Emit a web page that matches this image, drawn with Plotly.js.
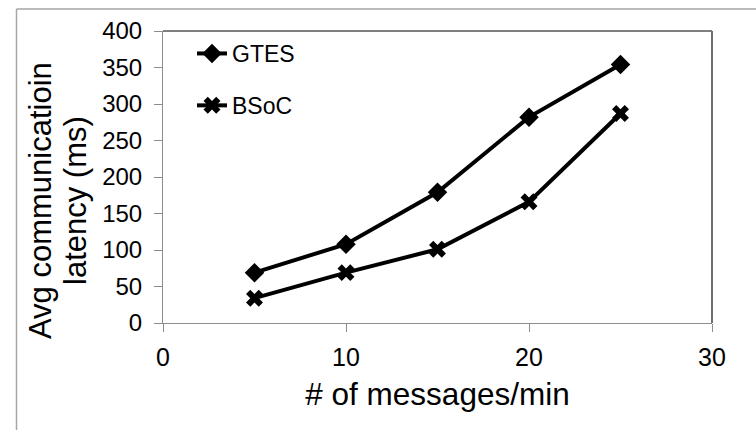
<!DOCTYPE html>
<html>
<head>
<meta charset="utf-8">
<script src="https://cdn.plot.ly/plotly-3.0.1.min.js"></script>
<style>
html,body{margin:0;padding:0;background:#fff;}
#chart{width:756px;height:430px;}
</style>
</head>
<body>
<div id="chart"></div>
<script>
const messagesPerMin = [5, 10, 15, 20, 25];
const gtesLatency = [69, 108, 179, 282, 354];
const bsocLatency = [34, 69, 101, 166, 287];
const xTicks = [0, 10, 20, 30];
const yTicks = [0, 50, 100, 150, 200, 250, 300, 350, 400];

const W = 756, H = 430;
const M = {l: 163, r: 44, t: 31, b: 107};
const pw = W - M.l - M.r, ph = H - M.t - M.b;
const px = v => (v - M.l) / pw;
const py = v => (H - M.b - v) / ph;

const font = 'Arial, "Liberation Sans", sans-serif';

const traces = [
  {x: messagesPerMin, y: gtesLatency, name: 'GTES', type: 'scatter', mode: 'lines+markers',
   legendgroup: 'a',
   line: {color: '#000', width: 4}, marker: {symbol: 'diamond', size: 15, color: '#000'}},
  {x: messagesPerMin, y: bsocLatency, name: 'BSoC', type: 'scatter', mode: 'lines+markers',
   legendgroup: 'b',
   line: {color: '#000', width: 4}, marker: {symbol: 'x', size: 15, color: '#000', line: {width: 0}}}
];

const layout = {
  width: W, height: H,
  margin: M,
  paper_bgcolor: '#fff', plot_bgcolor: '#fff',
  font: {family: font, color: '#000'},
  showlegend: true,
  legend: {x: px(192), y: py(32), xanchor: 'left', yanchor: 'top',
           bgcolor: 'rgba(0,0,0,0)', borderwidth: 0,
           font: {size: 23, family: font, color: '#000'},
           traceorder: 'grouped', tracegroupgap: 19},
  xaxis: {range: [0, 30], tickvals: xTicks, ticktext: xTicks.map(String),
          showgrid: false, zeroline: false, showline: true, linecolor: '#8c8c8c', linewidth: 1,
          ticks: 'outside', ticklen: 8, tickcolor: '#8c8c8c',
          ticklabelstandoff: 4,
          tickfont: {size: 25, family: font, color: '#000'},
          title: {text: '# of messages/min', font: {size: 31.5, family: font, color: '#000'}, standoff: 12},
          fixedrange: true},
  yaxis: {range: [0, 400], tickvals: yTicks, ticktext: yTicks.map(String),
          showgrid: false, zeroline: false, showline: true, linecolor: '#8c8c8c', linewidth: 1,
          ticks: 'outside', ticklen: 8, tickcolor: '#8c8c8c',
          ticklabelstandoff: 7,
          tickfont: {size: 24, family: font, color: '#000'},
          fixedrange: true},
  annotations: [
    {text: 'Avg communicatioin', xref: 'paper', yref: 'paper', x: px(40), y: py(201),
     textangle: -90, showarrow: false, xanchor: 'center', yanchor: 'middle',
     font: {size: 31, family: font, color: '#000'}},
    {text: 'latency (ms)', xref: 'paper', yref: 'paper', x: px(75), y: py(201),
     textangle: -90, showarrow: false, xanchor: 'center', yanchor: 'middle',
     font: {size: 31, family: font, color: '#000'}}
  ],
  shapes: [
    {type: 'line', xref: 'paper', yref: 'paper', x0: 0, x1: 1, y0: 1, y1: 1, line: {color: '#000', width: 1}},
    {type: 'line', xref: 'paper', yref: 'paper', x0: 1, x1: 1, y0: 0, y1: 1, line: {color: '#6e6e6e', width: 2}},
    {type: 'line', xref: 'paper', yref: 'paper', x0: px(16.5), x1: px(16.5), y0: py(9), y1: py(432), line: {color: '#a6a6a6', width: 1.5}},
    {type: 'line', xref: 'paper', yref: 'paper', x0: px(16.5), x1: px(758), y0: py(9), y1: py(9), line: {color: '#a6a6a6', width: 1.5}}
  ]
};

Plotly.newPlot('chart', traces, layout, {displayModeBar: false, staticPlot: true});
</script>
</body>
</html>
